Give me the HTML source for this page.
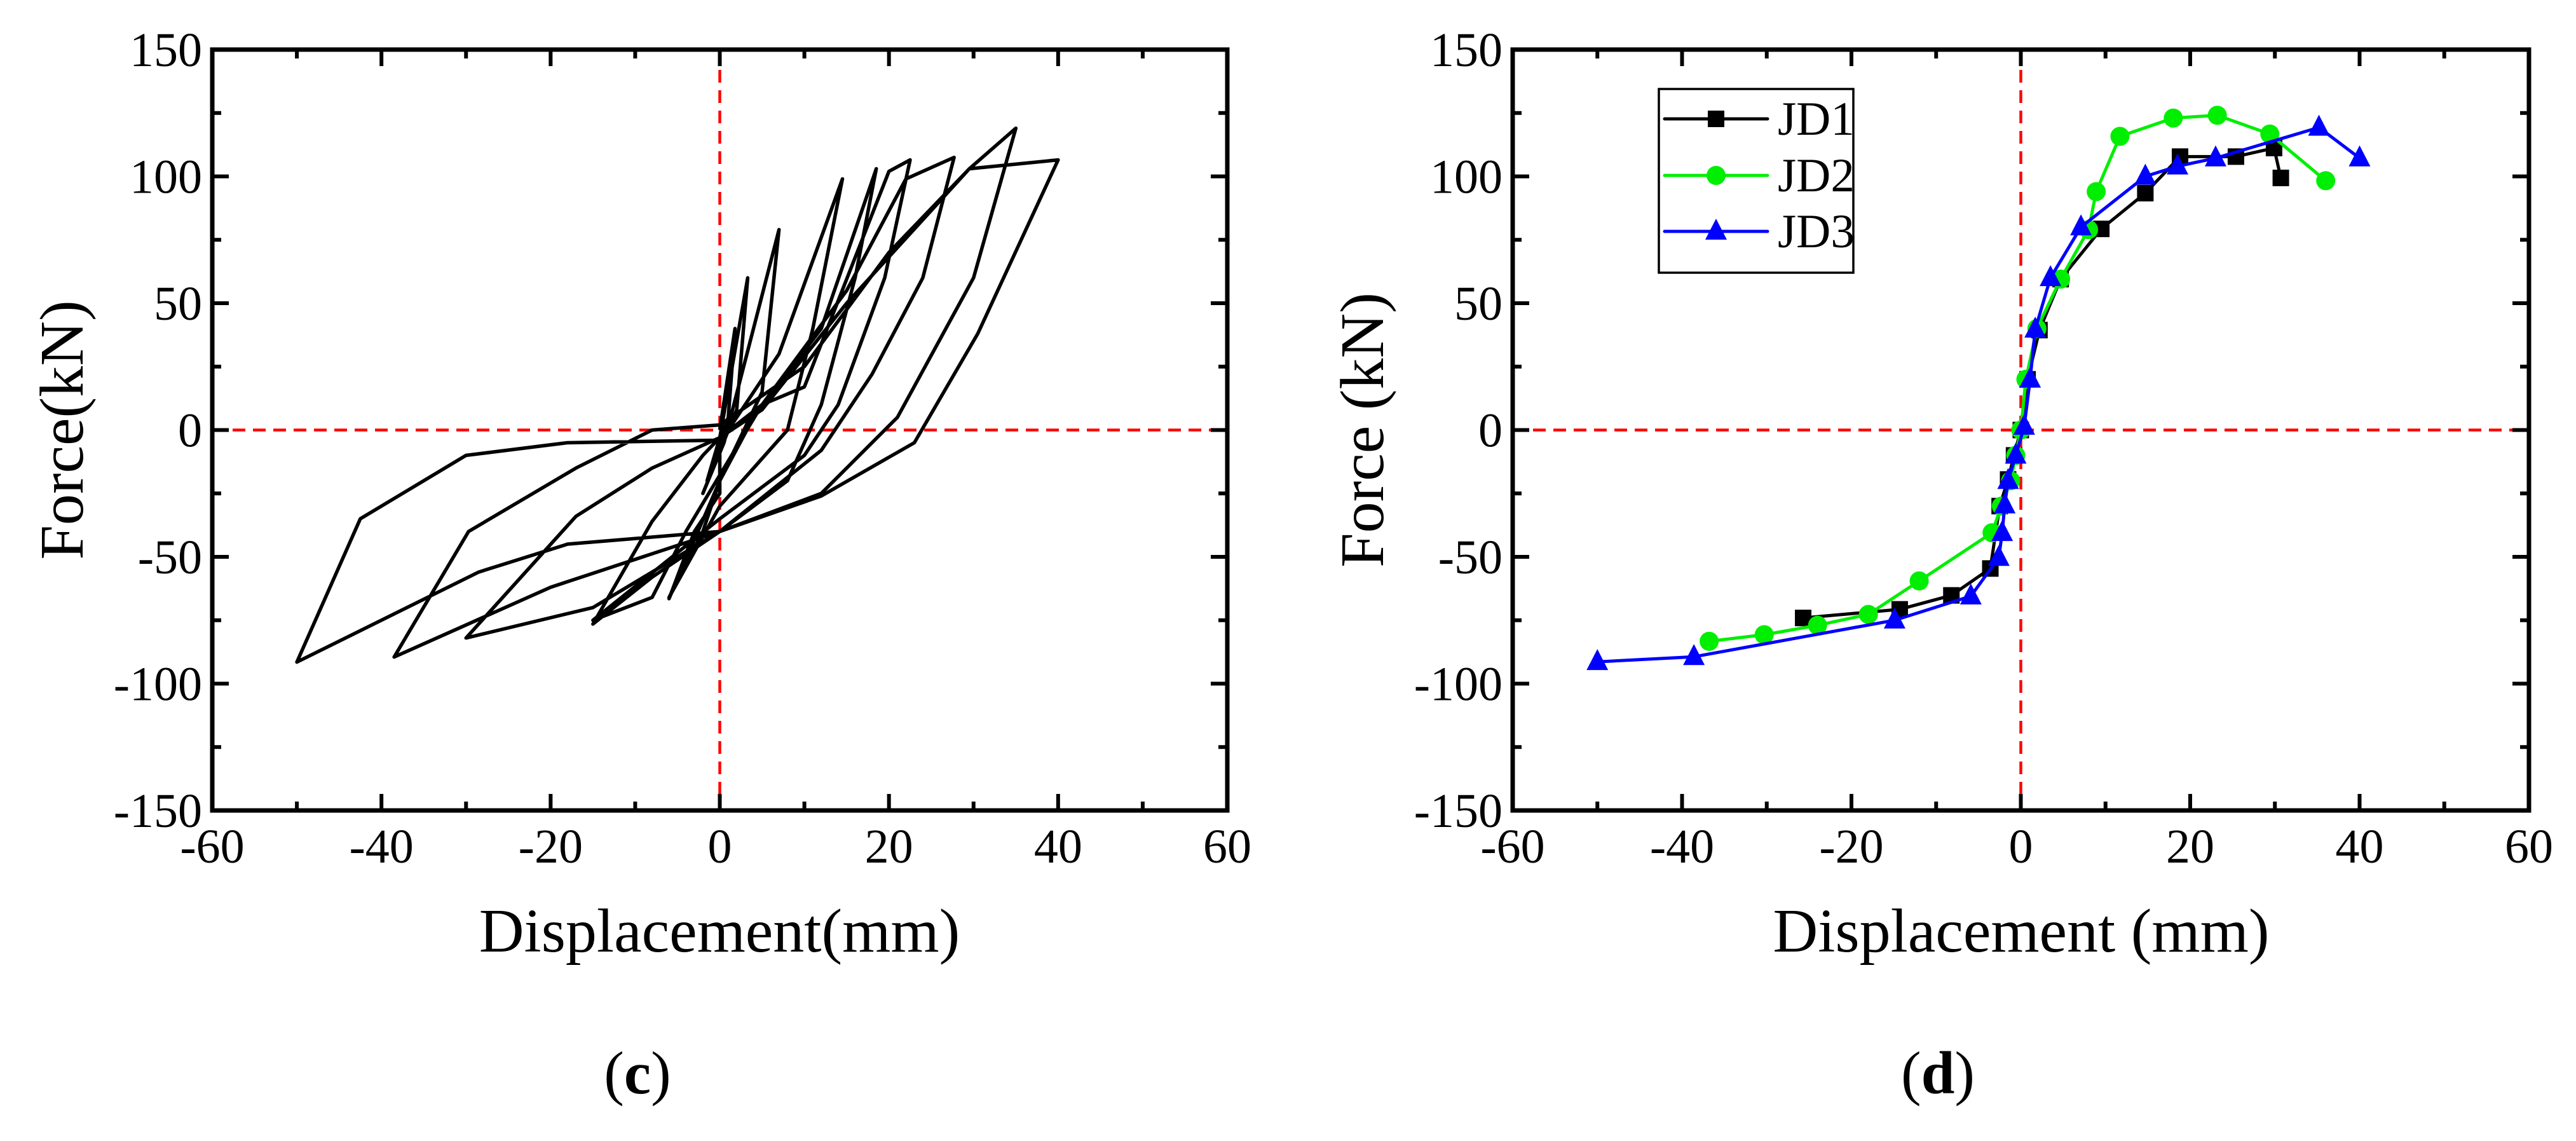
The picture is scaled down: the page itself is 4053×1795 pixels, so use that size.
<!DOCTYPE html>
<html><head><meta charset="utf-8"><style>
html,body{margin:0;padding:0;background:#fff;}
svg{display:block;font-family:"Liberation Serif","Times New Roman",serif;}
</style></head><body>
<svg id="fig" width="4053" height="1795" viewBox="0 0 4053 1795" xmlns="http://www.w3.org/2000/svg">
<g id="pc"></g>
<g id="pd"></g>
<text x="1003" y="1720" font-size="95" text-anchor="middle">(<tspan font-weight="bold">c</tspan>)</text>
<text x="3049" y="1720" font-size="95" text-anchor="middle">(<tspan font-weight="bold">d</tspan>)</text>
</svg>
<script>
const xTicks=[-60,-40,-20,0,20,40,60];
const yTicks=[-150,-100,-50,0,50,100,150];
// hysteresis (c): displacement / force sequence
const hystDisp=[0,1.8,1,-1.5,0,3.3,2,-2,0.5,7,5,0,-6,-3,0,
 0,7,14.5,11,8,0,-6,-2,0,
 4,12,18.5,16,12,8,0,-8,-15,-8,-2,0,5,10,
 20,22.5,19.5,14,10,0,-15,-8,-4,
 5,15,22,27.7,24,18,12,0,-15,-30,-17,-8,0,5,
 15,29.5,35,30,21,12,0,-20,-38.5,-29.7,-17,-8,0,
 10,20,29.5,40,30.5,23,12,0,-18,-28.5,-50,-42.5,-30,-18,0];
const hystForce=[0,40,5,-20,-3,60,8,-25,-5,79,15,-20,-66.5,-40,-25,
 -5,30,99,40,0,-30,-66,-40,-20,
 5,40,103,60,10,-20,-40,-58,-76.5,-36,-10,-3,10,17,
 102,106.5,60,10,-10,-35,-75,-66,-40,
 10,55,99,107.5,60,22,-8,-40,-70,-82,-34,-15,-3,8,
 50,103,119,60,5,-25,-40,-62,-89.5,-40,-15,0,2,
 25,70,103,106.5,38,-5,-26,-40,-45,-56,-91.5,-35,-10,-5,-4];
// skeleton curves (d)
const jd1X=[-25.7,-14.3,-8.2,-3.6,-2.5,-1.5,-0.8,0,0.8,2.2,4.7,9.5,14.7,18.8,25.4,29.9,30.7];
const jd1Y=[-74.1,-70.7,-65.2,-54.6,-30,-19.5,-10,0,20,39.4,59.5,79.3,93.4,107.8,107.8,111.2,99.4];
const jd2X=[-36.8,-30.3,-24,-18,-12,-3.4,-2.3,-1.2,-0.6,0,0.6,1.9,4.7,8,8.9,11.7,18,23.2,29.4,36];
const jd2Y=[-83.3,-80.7,-77,-72.7,-59.5,-40.5,-30,-20,-10,0,20,40,59.5,79,94,115.8,123,124.1,116.7,98.3];
const jd3X=[-50,-38.6,-14.9,-5.9,-2.6,-2.2,-1.9,-1.5,-0.6,0.4,1.1,1.7,3.5,7.1,14.7,18.5,23,35.2,40];
const jd3Y=[-91.4,-89.4,-75,-65.5,-50.3,-40.5,-29.6,-20,-10,1.4,20,39.7,60,80,100,104,107.2,119.3,107.2];

const NS="http://www.w3.org/2000/svg";
function mk(parent,tag,attrs){const e=document.createElementNS(NS,tag);for(const k in attrs)e.setAttribute(k,attrs[k]);parent.appendChild(e);return e;}

function drawAxes(g,L,T,R,B,ytitle,xtitle,ytx,xtx){
  const sx=v=>L+(v+60)/120*(R-L);
  const sy=v=>B-(v+150)/300*(B-T);
  let e=mk(g,'line',{x1:sx(0),y1:T,x2:sx(0),y2:B,stroke:'#f00','stroke-width':4.5,'stroke-dasharray':'20 12'});
  
  
  e=mk(g,'line',{x1:L,y1:sy(0),x2:R,y2:sy(0),stroke:'#f00','stroke-width':4.5,'stroke-dasharray':'20 12'});
  
  
  for(let i=0;i<xTicks.length;i++){
    const v=xTicks[i];
    for(const [y0,d] of [[B,-1],[T,1]]){
      e=mk(g,'line',{x1:sx(v),y1:y0,x2:sx(v),y2:y0+d*26,stroke:'#000','stroke-width':6});
      
      
      if(i<xTicks.length-1){
        e=mk(g,'line',{x1:sx(v+10),y1:y0,x2:sx(v+10),y2:y0+d*14,stroke:'#000','stroke-width':6});
        
        
      }
    }
    e=mk(g,'text',{x:sx(v),y:B+82,'font-size':76,'text-anchor':'middle'});
    e.textContent=String(v);
    
    
  }
  for(let i=0;i<yTicks.length;i++){
    const v=yTicks[i];
    for(const [x0,d] of [[L,1],[R,-1]]){
      e=mk(g,'line',{x1:x0,y1:sy(v),x2:x0+d*26,y2:sy(v),stroke:'#000','stroke-width':6});
      
      
      if(i<yTicks.length-1){
        e=mk(g,'line',{x1:x0,y1:sy(v+25),x2:x0+d*14,y2:sy(v+25),stroke:'#000','stroke-width':6});
        
        
      }
    }
    e=mk(g,'text',{x:L-16,y:sy(v)+26,'font-size':76,'text-anchor':'end'});
    e.textContent=String(v);
    
    
  }
  e=mk(g,'text',{x:xtx,y:1497,'font-size':98,'text-anchor':'middle'});
  e.textContent=xtitle;
  
  
  e=mk(g,'text',{x:0,y:0,'font-size':98,'text-anchor':'middle',transform:`translate(${ytx},${(T+B)/2}) rotate(-90)`});
  e.textContent=ytitle;
  
  
  return {sx,sy};
}
function frame(g,L,T,R,B){
  const e=mk(g,'rect',{x:L,y:T,width:R-L,height:B-T,fill:'none',stroke:'#000','stroke-width':7});
  
  
}

// Chart c
const gc=document.getElementById('pc');
const A=drawAxes(gc,334,78,1931,1275,'Force(kN)','Displacement(mm)',130,1132);
let pts=hystDisp.map((x,i)=>A.sx(x)+','+A.sy(hystForce[i])).join(' ');
let hl=mk(gc,'polyline',{points:pts,fill:'none',stroke:'#000','stroke-width':5.5,'stroke-linejoin':'round'});


frame(gc,334,78,1931,1275);

// Chart d
const gd=document.getElementById('pd');
const D=drawAxes(gd,2380,78,3979,1275,'Force (kN)','Displacement (mm)',2176,3180);
function marker(g,type,cx,cy,color){
  let e;
  if(type==='sq') e=mk(g,'rect',{x:cx-13,y:cy-13,width:26,height:26,fill:color});
  else if(type==='ci') e=mk(g,'circle',{cx:cx,cy:cy,r:15,fill:color});
  else e=mk(g,'polygon',{points:`${cx},${cy-20} ${cx-17},${cy+13} ${cx+17},${cy+13}`,fill:color});
  return e;
}
const series=[[jd1X,jd1Y,'#000','sq','jd1'],[jd2X,jd2Y,'#00ee00','ci','jd2'],[jd3X,jd3Y,'#0000ff','tr','jd3']];
for(const [xs,ys,col,mt,nm] of series){
  const sg=mk(gd,'g',{});
  
  
  const p=mk(sg,'polyline',{points:xs.map((x,i)=>D.sx(x)+','+D.sy(ys[i])).join(' '),fill:'none',stroke:col,'stroke-width':5});
  
  
  for(let i=0;i<xs.length;i++){
    const m=marker(sg,mt,D.sx(xs[i]),D.sy(ys[i]),col);
    
    
  }
}
frame(gd,2380,78,3979,1275);
// legend
const lg=mk(gd,'g',{});


let lb=mk(lg,'rect',{x:2610,y:140,width:306,height:289,fill:'#fff',stroke:'#000','stroke-width':3.5});


const legNames=['JD1','JD2','JD3'];
const legY=[187,276,364];
for(let i=0;i<3;i++){
  const [,, col,mt]=series[i];
  const eg=mk(lg,'g',{});
  
  
  mk(eg,'line',{x1:2619,y1:legY[i],x2:2781,y2:legY[i],stroke:col,'stroke-width':5,'stroke-linecap':'round'});
  marker(eg,mt,2700,legY[i],col);
  const t=mk(eg,'text',{x:2797,y:legY[i]+25,'font-size':75});
  t.textContent=legNames[i];
}
</script>
</body></html>
